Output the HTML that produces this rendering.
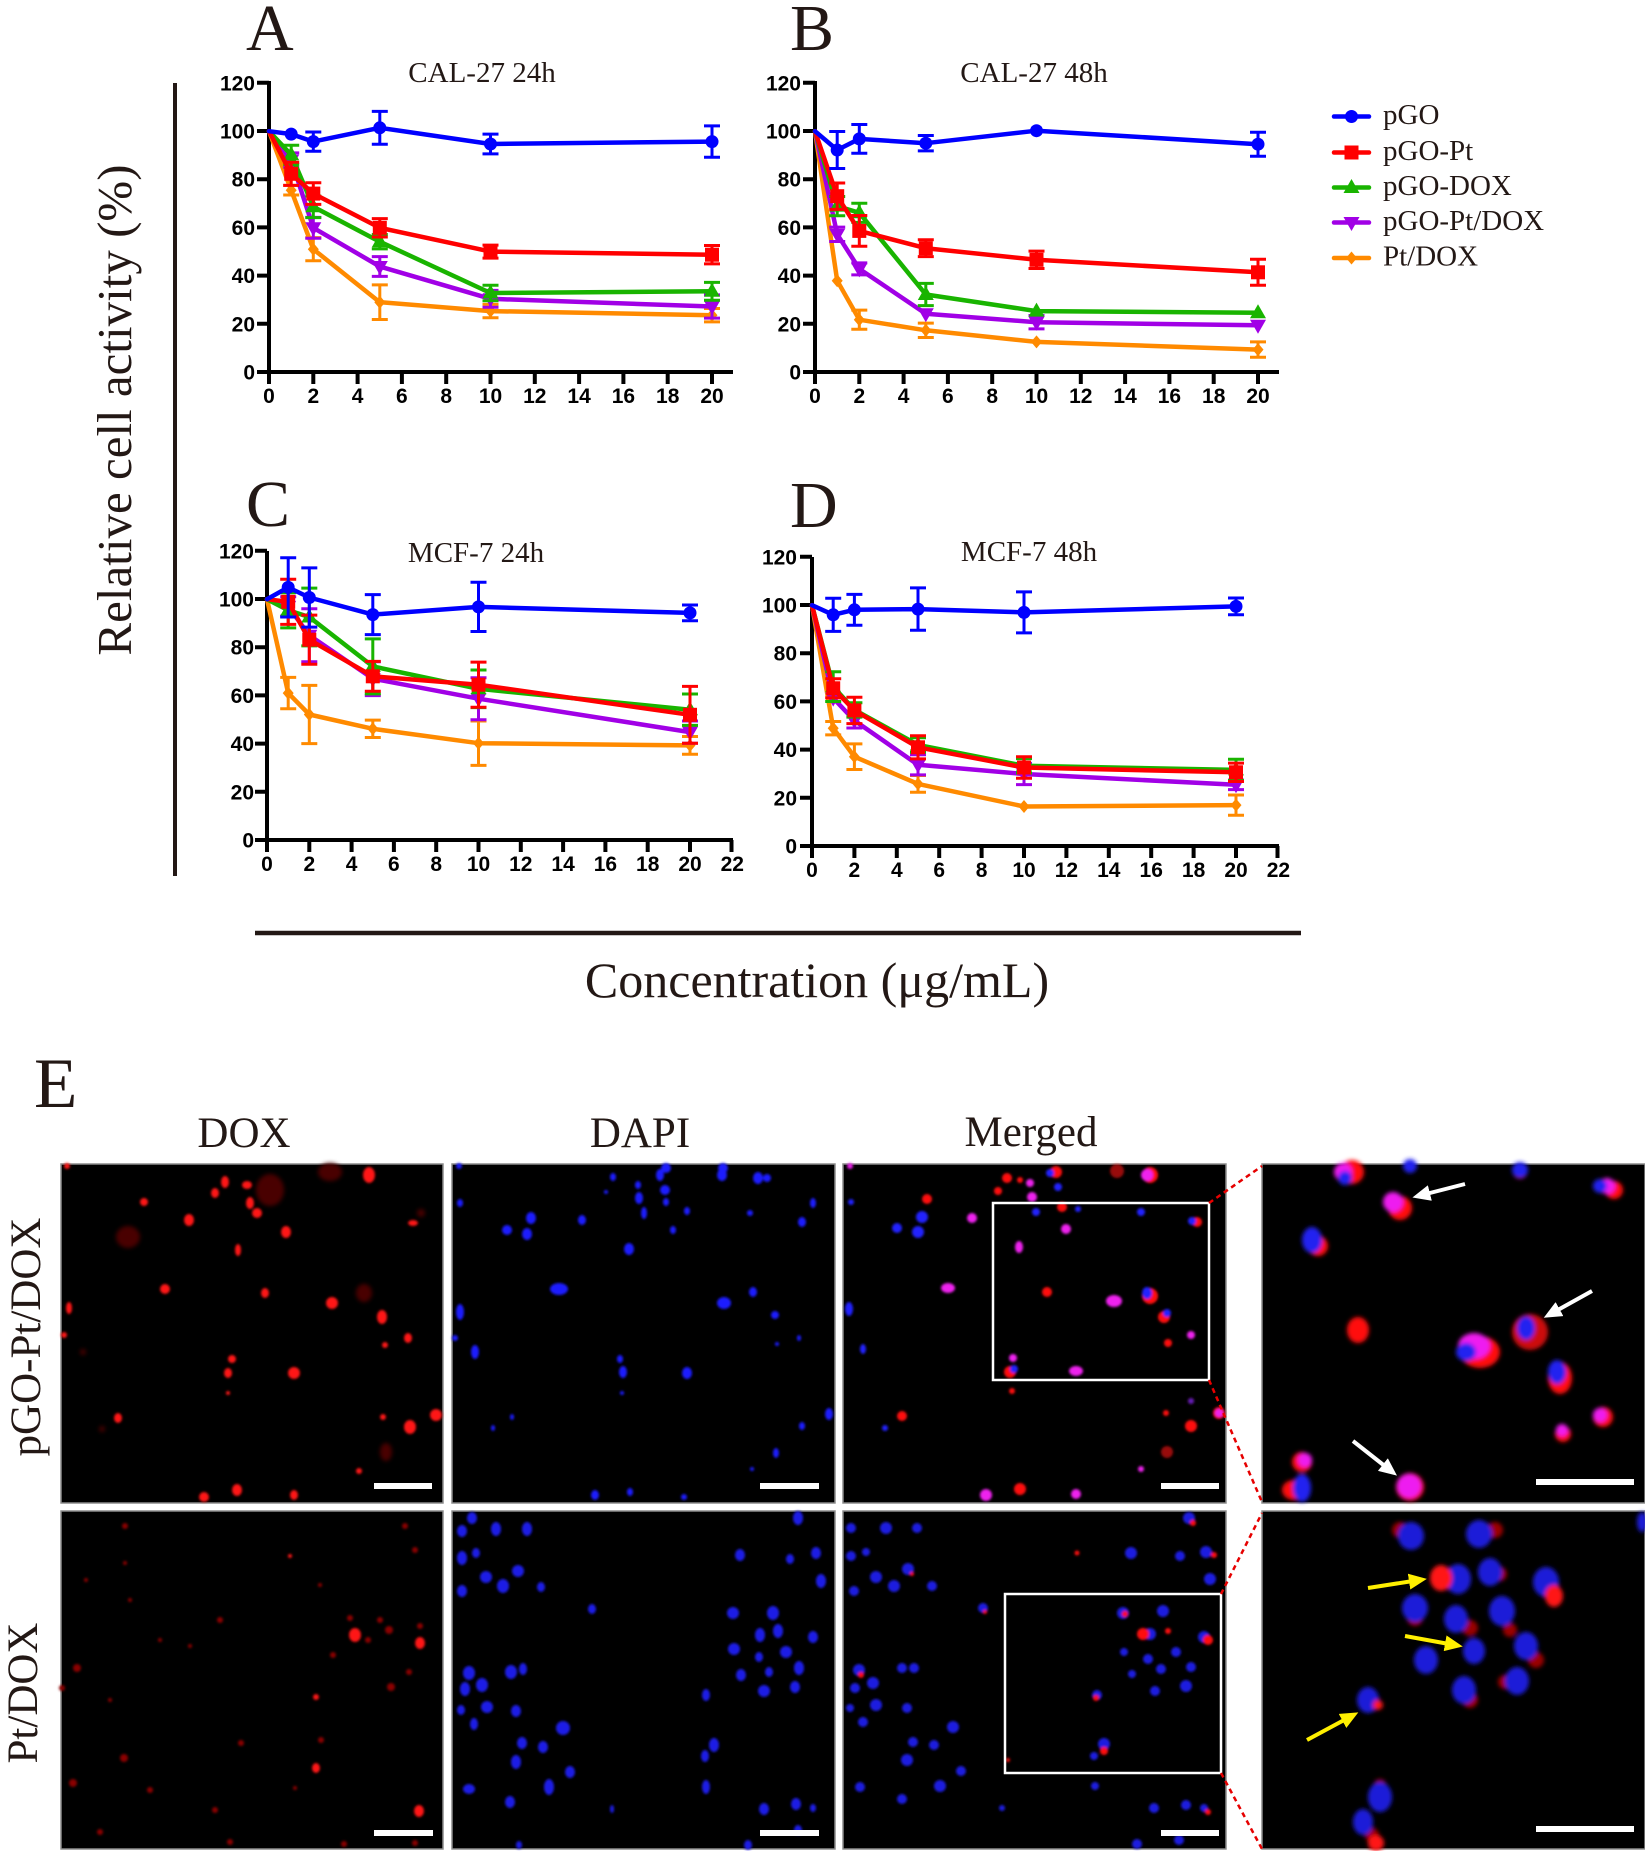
<!DOCTYPE html>
<html>
<head>
<meta charset="utf-8">
<style>
html,body{margin:0;padding:0;background:#fff;}
svg{display:block;}
.ser{fill:none;stroke-width:4.5;stroke-linejoin:round;stroke-linecap:round;}
.eb{fill:none;stroke-width:3;}
.ax{fill:none;stroke:#000;stroke-width:4;}
.tk{font-family:"Liberation Sans",Arial,sans-serif;font-weight:bold;font-size:21px;fill:#000;}
.sf{font-family:"Liberation Serif","Times New Roman",serif;fill:#231815;}
</style>
</head>
<body>
<svg width="1645" height="1851" viewBox="0 0 1645 1851" xmlns="http://www.w3.org/2000/svg">
<defs>
<g id="mc"><circle r="6.5"/></g>
<g id="ms"><rect x="-7" y="-7" width="14" height="14"/></g>
<g id="mu"><polygon points="0,-8.5 8,5.5 -8,5.5"/></g>
<g id="md"><polygon points="-8,-5.5 8,-5.5 0,8.5"/></g>
<g id="mdi"><polygon points="0,-6.5 5.5,0 0,6.5 -5.5,0"/></g>
<filter id="bl" x="-20%" y="-20%" width="140%" height="140%"><feGaussianBlur stdDeviation="1.3"/></filter>
<filter id="bl2" x="-20%" y="-20%" width="140%" height="140%"><feGaussianBlur stdDeviation="2.2"/></filter>
<marker id="ahw" markerUnits="userSpaceOnUse" markerWidth="18" markerHeight="16" refX="4" refY="8" orient="auto"><path d="M0,0 L18,8 L0,16 z" fill="#fff"/></marker>
<marker id="ahy" markerUnits="userSpaceOnUse" markerWidth="18" markerHeight="16" refX="4" refY="8" orient="auto"><path d="M0,0 L18,8 L0,16 z" fill="#ffef00"/></marker>
</defs>
<rect width="1645" height="1851" fill="#fff"/>

<!-- Panel letters & titles -->
<text class="sf" x="246" y="50" font-size="66">A</text>
<text class="sf" x="790" y="50" font-size="66">B</text>
<text class="sf" x="246" y="526" font-size="66">C</text>
<text class="sf" x="790" y="527" font-size="66">D</text>
<text class="sf" x="482" y="82" font-size="29" text-anchor="middle">CAL-27 24h</text>
<text class="sf" x="1034" y="82" font-size="29" text-anchor="middle">CAL-27 48h</text>
<text class="sf" x="476" y="562" font-size="29" text-anchor="middle">MCF-7 24h</text>
<text class="sf" x="1029" y="561" font-size="29" text-anchor="middle">MCF-7 48h</text>

<!-- Shared labels -->
<path d="M175 83V876" stroke="#231815" stroke-width="4"/>
<path d="M255 933H1301" stroke="#231815" stroke-width="4.5"/>
<text class="sf" font-size="49" text-anchor="middle" transform="translate(131,410) rotate(-90)">Relative cell activity (%)</text>
<text class="sf" x="817" y="997" font-size="50" text-anchor="middle">Concentration (μg/mL)</text>

<!-- ============ Panel A ============ -->
<path class="ax" d="M269 81V372H733"/>
<path class="ax" d="M257 372H269M257 323.8H269M257 275.6H269M257 227.4H269M257 179.2H269M257 131H269M257 82.8H269M269 372V384M313.3 372V384M357.6 372V384M401.9 372V384M446.2 372V384M490.5 372V384M534.8 372V384M579.1 372V384M623.4 372V384M667.7 372V384M712 372V384"/>
<g class="tk" text-anchor="end">
<text x="255" y="379.5">0</text><text x="255" y="331.3">20</text><text x="255" y="283.1">40</text><text x="255" y="234.9">60</text><text x="255" y="186.7">80</text><text x="255" y="138.5">100</text><text x="255" y="90.3">120</text>
</g>
<g class="tk" text-anchor="middle">
<text x="269" y="403">0</text><text x="313.3" y="403">2</text><text x="357.6" y="403">4</text><text x="401.9" y="403">6</text><text x="446.2" y="403">8</text><text x="490.5" y="403">10</text><text x="534.8" y="403">12</text><text x="579.1" y="403">14</text><text x="623.4" y="403">16</text><text x="667.7" y="403">18</text><text x="712" y="403">20</text>
</g>
<!-- orange -->
<g stroke="#ff8a00" fill="#ff8a00">
<polyline class="ser" points="269,131.2 291.2,190.2 313.3,249.2 379.8,302.2 490.5,311.1 712,315.2"/>
<path class="eb" d="M291.2 185.4V195M283.2 185.4h16M283.2 195h16M313.3 237.6V260.8M305.3 237.6h16M305.3 260.8h16M379.8 284.9V319.5M371.8 284.9h16M371.8 319.5h16M490.5 304.4V317.8M482.5 304.4h16M482.5 317.8h16M712 308.5V321.9M704 308.5h16M704 321.9h16"/>
<g stroke="none"><use href="#mdi" x="291.2" y="190.2"/><use href="#mdi" x="313.3" y="249.2"/><use href="#mdi" x="379.8" y="302.2"/><use href="#mdi" x="490.5" y="311.1"/><use href="#mdi" x="712" y="315.2"/></g>
</g>
<!-- purple -->
<g stroke="#a100e6" fill="#a100e6">
<polyline class="ser" points="269,131.2 291.2,160.1 313.3,227.8 379.8,266.5 490.5,298.8 712,306.5"/>
<path class="eb" d="M291.2 152.9V167.3M283.2 152.9h16M283.2 167.3h16M313.3 217.4V238.2M305.3 217.4h16M305.3 238.2h16M379.8 256.6V276.4M371.8 256.6h16M371.8 276.4h16M490.5 290.4V307.2M482.5 290.4h16M482.5 307.2h16M712 294.9V318.1M704 294.9h16M704 318.1h16"/>
<g stroke="none"><use href="#md" x="291.2" y="160.1"/><use href="#md" x="313.3" y="227.8"/><use href="#md" x="379.8" y="266.5"/><use href="#md" x="490.5" y="298.8"/><use href="#md" x="712" y="306.5"/></g>
</g>
<!-- green -->
<g stroke="#19b400" fill="#19b400">
<polyline class="ser" points="269,131.2 291.2,154.8 313.3,206.8 379.8,241.7 490.5,293 712,291.3"/>
<path class="eb" d="M291.2 145.2V164.4M283.2 145.2h16M283.2 164.4h16M313.3 196V217.6M305.3 196h16M305.3 217.6h16M379.8 234.5V248.9M371.8 234.5h16M371.8 248.9h16M490.5 285.3V300.7M482.5 285.3h16M482.5 300.7h16M712 282.4V300.2M704 282.4h16M704 300.2h16"/>
<g stroke="none"><use href="#mu" x="291.2" y="154.8"/><use href="#mu" x="313.3" y="206.8"/><use href="#mu" x="379.8" y="241.7"/><use href="#mu" x="490.5" y="293"/><use href="#mu" x="712" y="291.3"/></g>
</g>
<!-- red -->
<g stroke="#ff0000" fill="#ff0000">
<polyline class="ser" points="269,131.2 291.2,173.8 313.3,193.6 379.8,227.8 490.5,251.6 712,254.7"/>
<path class="eb" d="M291.2 162.2V185.4M283.2 162.2h16M283.2 185.4h16M313.3 182.8V204.4M305.3 182.8h16M305.3 204.4h16M379.8 218.6V237M371.8 218.6h16M371.8 237h16M490.5 245.1V258.1M482.5 245.1h16M482.5 258.1h16M712 245.5V263.9M704 245.5h16M704 263.9h16"/>
<g stroke="none"><use href="#ms" x="291.2" y="173.8"/><use href="#ms" x="313.3" y="193.6"/><use href="#ms" x="379.8" y="227.8"/><use href="#ms" x="490.5" y="251.6"/><use href="#ms" x="712" y="254.7"/></g>
</g>
<!-- blue -->
<g stroke="#0000ff" fill="#0000ff">
<polyline class="ser" points="269,131.2 291.2,134.1 313.3,141.6 379.8,127.8 490.5,144 712,141.6"/>
<path class="eb" d="M313.3 132V151.2M305.3 132h16M305.3 151.2h16M379.8 111.4V144.2M371.8 111.4h16M371.8 144.2h16M490.5 134.1V153.9M482.5 134.1h16M482.5 153.9h16M712 125.9V157.3M704 125.9h16M704 157.3h16"/>
<g stroke="none"><use href="#mc" x="291.2" y="134.1"/><use href="#mc" x="313.3" y="141.6"/><use href="#mc" x="379.8" y="127.8"/><use href="#mc" x="490.5" y="144"/><use href="#mc" x="712" y="141.6"/></g>
</g>

<!-- ============ Panel B ============ -->
<path class="ax" d="M815 81V372H1279"/>
<path class="ax" d="M803 372H815M803 323.8H815M803 275.6H815M803 227.4H815M803 179.2H815M803 131H815M803 82.8H815M815 372V384M859.3 372V384M903.6 372V384M947.9 372V384M992.2 372V384M1036.5 372V384M1080.8 372V384M1125.1 372V384M1169.4 372V384M1213.7 372V384M1258 372V384"/>
<g class="tk" text-anchor="end">
<text x="801" y="379.5">0</text><text x="801" y="331.3">20</text><text x="801" y="283.1">40</text><text x="801" y="234.9">60</text><text x="801" y="186.7">80</text><text x="801" y="138.5">100</text><text x="801" y="90.3">120</text>
</g>
<g class="tk" text-anchor="middle">
<text x="815" y="403">0</text><text x="859.3" y="403">2</text><text x="903.6" y="403">4</text><text x="947.9" y="403">6</text><text x="992.2" y="403">8</text><text x="1036.5" y="403">10</text><text x="1080.8" y="403">12</text><text x="1125.1" y="403">14</text><text x="1169.4" y="403">16</text><text x="1213.7" y="403">18</text><text x="1258" y="403">20</text>
</g>
<g stroke="#ff8a00" fill="#ff8a00">
<polyline class="ser" points="815,131.2 837.2,280.7 859.3,319.7 925.8,330.3 1036.5,341.9 1258,349.6"/>
<path class="eb" d="M859.3 310.1V329.3M851.3 310.1h16M851.3 329.3h16M925.8 323.1V337.5M917.8 323.1h16M917.8 337.5h16M1258 341.9V357.3M1250 341.9h16M1250 357.3h16"/>
<g stroke="none"><use href="#mdi" x="837.2" y="280.7"/><use href="#mdi" x="859.3" y="319.7"/><use href="#mdi" x="925.8" y="330.3"/><use href="#mdi" x="1036.5" y="341.9"/><use href="#mdi" x="1258" y="349.6"/></g>
</g>
<g stroke="#a100e6" fill="#a100e6">
<polyline class="ser" points="815,131.2 837.2,234.3 859.3,268.9 925.8,313.7 1036.5,322.2 1258,325.3"/>
<path class="eb" d="M837.2 227.1V241.5M829.2 227.1h16M829.2 241.5h16M859.3 262.9V274.9M851.3 262.9h16M851.3 274.9h16M1036.5 315.5V328.9M1028.5 315.5h16M1028.5 328.9h16"/>
<g stroke="none"><use href="#md" x="837.2" y="234.3"/><use href="#md" x="859.3" y="268.9"/><use href="#md" x="925.8" y="313.7"/><use href="#md" x="1036.5" y="322.2"/><use href="#md" x="1258" y="325.3"/></g>
</g>
<g stroke="#19b400" fill="#19b400">
<polyline class="ser" points="815,131.2 837.2,206.1 859.3,212.8 925.8,294.5 1036.5,311.1 1258,312.8"/>
<path class="eb" d="M837.2 196.5V215.7M829.2 196.5h16M829.2 215.7h16M859.3 203.2V222.4M851.3 203.2h16M851.3 222.4h16M925.8 283.4V305.6M917.8 283.4h16M917.8 305.6h16"/>
<g stroke="none"><use href="#mu" x="837.2" y="206.1"/><use href="#mu" x="859.3" y="212.8"/><use href="#mu" x="925.8" y="294.5"/><use href="#mu" x="1036.5" y="311.1"/><use href="#mu" x="1258" y="312.8"/></g>
</g>
<g stroke="#ff0000" fill="#ff0000">
<polyline class="ser" points="815,131.2 837.2,196.2 859.3,230.9 925.8,248.2 1036.5,259.8 1258,272.3"/>
<path class="eb" d="M837.2 183V209.4M829.2 183h16M829.2 209.4h16M859.3 215.5V246.3M851.3 215.5h16M851.3 246.3h16M925.8 239.8V256.6M917.8 239.8h16M917.8 256.6h16M1036.5 251.1V268.5M1028.5 251.1h16M1028.5 268.5h16M1258 259.3V285.3M1250 259.3h16M1250 285.3h16"/>
<g stroke="none"><use href="#ms" x="837.2" y="196.2"/><use href="#ms" x="859.3" y="230.9"/><use href="#ms" x="925.8" y="248.2"/><use href="#ms" x="1036.5" y="259.8"/><use href="#ms" x="1258" y="272.3"/></g>
</g>
<g stroke="#0000ff" fill="#0000ff">
<polyline class="ser" points="815,131.2 837.2,150 859.3,138.9 925.8,143.2 1036.5,130.7 1258,144.2"/>
<path class="eb" d="M837.2 131.5V168.5M829.2 131.5h16M829.2 168.5h16M859.3 124.5V153.3M851.3 124.5h16M851.3 153.3h16M925.8 135.5V150.9M917.8 135.5h16M917.8 150.9h16M1258 132.2V156.2M1250 132.2h16M1250 156.2h16"/>
<g stroke="none"><use href="#mc" x="837.2" y="150"/><use href="#mc" x="859.3" y="138.9"/><use href="#mc" x="925.8" y="143.2"/><use href="#mc" x="1036.5" y="130.7"/><use href="#mc" x="1258" y="144.2"/></g>
</g>

<!-- ============ Panel C ============ -->
<path class="ax" d="M267 551V840H733"/>
<path class="ax" d="M255 840H267M255 791.8H267M255 743.6H267M255 695.4H267M255 647.2H267M255 599H267M255 550.8H267M267 840V852M309.3 840V852M351.6 840V852M393.9 840V852M436.2 840V852M478.5 840V852M520.8 840V852M563.1 840V852M605.4 840V852M647.7 840V852M690 840V852M731.5 840V852"/>
<g class="tk" text-anchor="end">
<text x="254" y="847.5">0</text><text x="254" y="799.3">20</text><text x="254" y="751.1">40</text><text x="254" y="702.9">60</text><text x="254" y="654.7">80</text><text x="254" y="606.5">100</text><text x="254" y="558.3">120</text>
</g>
<g class="tk" text-anchor="middle">
<text x="267" y="871">0</text><text x="309.3" y="871">2</text><text x="351.6" y="871">4</text><text x="393.9" y="871">6</text><text x="436.2" y="871">8</text><text x="478.5" y="871">10</text><text x="520.8" y="871">12</text><text x="563.1" y="871">14</text><text x="605.4" y="871">16</text><text x="647.7" y="871">18</text><text x="690" y="871">20</text><text x="732.3" y="871">22</text>
</g>
<g stroke="#ff8a00" fill="#ff8a00">
<polyline class="ser" points="267,599.2 288.2,693.1 309.3,714.5 372.8,728.8 478.5,743.2 690,745.4"/>
<path class="eb" d="M288.2 677.4V708.8M280.2 677.4h16M280.2 708.8h16M309.3 685.4V743.6M301.3 685.4h16M301.3 743.6h16M372.8 720.1V737.5M364.8 720.1h16M364.8 737.5h16M478.5 721V765.4M470.5 721h16M470.5 765.4h16M690 736.5V754.3M682 736.5h16M682 754.3h16"/>
<g stroke="none"><use href="#mdi" x="288.2" y="693.1"/><use href="#mdi" x="309.3" y="714.5"/><use href="#mdi" x="372.8" y="728.8"/><use href="#mdi" x="478.5" y="743.2"/><use href="#mdi" x="690" y="745.4"/></g>
</g>
<g stroke="#a100e6" fill="#a100e6">
<polyline class="ser" points="267,599.2 288.2,606.4 309.3,635.3 372.8,678.7 478.5,698.7 690,732.1"/>
<path class="eb" d="M288.2 596.8V616M280.2 596.8h16M280.2 616h16M309.3 608.8V661.8M301.3 608.8h16M301.3 661.8h16M372.8 661.8V695.6M364.8 661.8h16M364.8 695.6h16M478.5 677.7V719.7M470.5 677.7h16M470.5 719.7h16M690 721V743.2M682 721h16M682 743.2h16"/>
<g stroke="none"><use href="#md" x="288.2" y="606.4"/><use href="#md" x="309.3" y="635.3"/><use href="#md" x="372.8" y="678.7"/><use href="#md" x="478.5" y="698.7"/><use href="#md" x="690" y="732.1"/></g>
</g>
<g stroke="#19b400" fill="#19b400">
<polyline class="ser" points="267,599.2 288.2,610.3 309.3,617 372.8,666.4 478.5,688.8 690,709.7"/>
<path class="eb" d="M288.2 592.7V627.9M280.2 592.7h16M280.2 627.9h16M309.3 588.1V645.9M301.3 588.1h16M301.3 645.9h16M372.8 638.9V693.9M364.8 638.9h16M364.8 693.9h16M478.5 670V707.6M470.5 670h16M470.5 707.6h16M690 694V725.4M682 694h16M682 725.4h16"/>
<g stroke="none"><use href="#mu" x="288.2" y="610.3"/><use href="#mu" x="309.3" y="617"/><use href="#mu" x="372.8" y="666.4"/><use href="#mu" x="478.5" y="688.8"/><use href="#mu" x="690" y="709.7"/></g>
</g>
<g stroke="#ff0000" fill="#ff0000">
<polyline class="ser" points="267,599.2 288.2,601.8 309.3,639.7 372.8,676.3 478.5,684.7 690,714.8"/>
<path class="eb" d="M288.2 579.2V624.4M280.2 579.2h16M280.2 624.4h16M309.3 615.1V664.3M301.3 615.1h16M301.3 664.3h16M372.8 661.4V691.2M364.8 661.4h16M364.8 691.2h16M478.5 662.1V707.3M470.5 662.1h16M470.5 707.3h16M690 686.4V743.2M682 686.4h16M682 743.2h16"/>
<g stroke="none"><use href="#ms" x="288.2" y="601.8"/><use href="#ms" x="309.3" y="639.7"/><use href="#ms" x="372.8" y="676.3"/><use href="#ms" x="478.5" y="684.7"/><use href="#ms" x="690" y="714.8"/></g>
</g>
<g stroke="#0000ff" fill="#0000ff">
<polyline class="ser" points="267,599.2 288.2,587.4 309.3,597.5 372.8,614.6 478.5,606.9 690,612.9"/>
<path class="eb" d="M288.2 557.8V617M280.2 557.8h16M280.2 617h16M309.3 567.9V627.1M301.3 567.9h16M301.3 627.1h16M372.8 594.6V634.6M364.8 594.6h16M364.8 634.6h16M478.5 582.3V631.5M470.5 582.3h16M470.5 631.5h16M690 605V620.8M682 605h16M682 620.8h16"/>
<g stroke="none"><use href="#mc" x="288.2" y="587.4"/><use href="#mc" x="309.3" y="597.5"/><use href="#mc" x="372.8" y="614.6"/><use href="#mc" x="478.5" y="606.9"/><use href="#mc" x="690" y="612.9"/></g>
</g>

<!-- ============ Panel D ============ -->
<path class="ax" d="M812 557V846H1279"/>
<path class="ax" d="M800 846H812M800 797.8H812M800 749.6H812M800 701.4H812M800 653.2H812M800 605H812M800 556.8H812M812 846V858M854.4 846V858M896.8 846V858M939.2 846V858M981.6 846V858M1024 846V858M1066.4 846V858M1108.8 846V858M1151.2 846V858M1193.6 846V858M1236 846V858M1277.5 846V858"/>
<g class="tk" text-anchor="end">
<text x="797" y="853.5">0</text><text x="797" y="805.3">20</text><text x="797" y="757.1">40</text><text x="797" y="708.9">60</text><text x="797" y="660.7">80</text><text x="797" y="612.5">100</text><text x="797" y="564.3">120</text>
</g>
<g class="tk" text-anchor="middle">
<text x="812" y="877">0</text><text x="854.4" y="877">2</text><text x="896.8" y="877">4</text><text x="939.2" y="877">6</text><text x="981.6" y="877">8</text><text x="1024" y="877">10</text><text x="1066.4" y="877">12</text><text x="1108.8" y="877">14</text><text x="1151.2" y="877">16</text><text x="1193.6" y="877">18</text><text x="1236" y="877">20</text><text x="1278.4" y="877">22</text>
</g>
<g stroke="#ff8a00" fill="#ff8a00">
<polyline class="ser" points="812,605.2 833.2,728.2 854.4,756.7 918,783.9 1024,806.5 1236,805.1"/>
<path class="eb" d="M833.2 721.5V734.9M825.2 721.5h16M825.2 734.9h16M854.4 743.9V769.5M846.4 743.9h16M846.4 769.5h16M918 775.5V792.3M910 775.5h16M910 792.3h16M1236 795V815.2M1228 795h16M1228 815.2h16"/>
<g stroke="none"><use href="#mdi" x="833.2" y="728.2"/><use href="#mdi" x="854.4" y="756.7"/><use href="#mdi" x="918" y="783.9"/><use href="#mdi" x="1024" y="806.5"/><use href="#mdi" x="1236" y="805.1"/></g>
</g>
<g stroke="#a100e6" fill="#a100e6">
<polyline class="ser" points="812,605.2 833.2,698.1 854.4,720.5 918,764.8 1024,774 1236,784.8"/>
<path class="eb" d="M854.4 713V728M846.4 713h16M846.4 728h16M918 754.7V774.9M910 754.7h16M910 774.9h16M1024 763.4V784.6M1016 763.4h16M1016 784.6h16M1236 780V789.6M1228 780h16M1228 789.6h16"/>
<g stroke="none"><use href="#md" x="833.2" y="698.1"/><use href="#md" x="854.4" y="720.5"/><use href="#md" x="918" y="764.8"/><use href="#md" x="1024" y="774"/><use href="#md" x="1236" y="784.8"/></g>
</g>
<g stroke="#19b400" fill="#19b400">
<polyline class="ser" points="812,605.2 833.2,686.6 854.4,709.9 918,744.9 1024,765.8 1236,769.9"/>
<path class="eb" d="M833.2 671.7V701.5M825.2 671.7h16M825.2 701.5h16M854.4 702.7V717.1M846.4 702.7h16M846.4 717.1h16M918 737.7V752.1M910 737.7h16M910 752.1h16M1024 758.6V773M1016 758.6h16M1016 773h16M1236 759.3V780.5M1228 759.3h16M1228 780.5h16"/>
<g stroke="none"><use href="#mu" x="833.2" y="686.6"/><use href="#mu" x="854.4" y="709.9"/><use href="#mu" x="918" y="744.9"/><use href="#mu" x="1024" y="765.8"/><use href="#mu" x="1236" y="769.9"/></g>
</g>
<g stroke="#ff0000" fill="#ff0000">
<polyline class="ser" points="812,605.2 833.2,688.3 854.4,710.4 918,747.3 1024,767.5 1236,772.3"/>
<path class="eb" d="M833.2 678.7V697.9M825.2 678.7h16M825.2 697.9h16M854.4 697.2V723.6M846.4 697.2h16M846.4 723.6h16M918 735.7V758.9M910 735.7h16M910 758.9h16M1024 756.7V778.3M1016 756.7h16M1016 778.3h16M1236 763.1V781.5M1228 763.1h16M1228 781.5h16"/>
<g stroke="none"><use href="#ms" x="833.2" y="688.3"/><use href="#ms" x="854.4" y="710.4"/><use href="#ms" x="918" y="747.3"/><use href="#ms" x="1024" y="767.5"/><use href="#ms" x="1236" y="772.3"/></g>
</g>
<g stroke="#0000ff" fill="#0000ff">
<polyline class="ser" points="812,605.2 833.2,614.8 854.4,609.8 918,609.1 1024,612.4 1236,606.4"/>
<path class="eb" d="M833.2 598.2V631.4M825.2 598.2h16M825.2 631.4h16M854.4 594.4V625.2M846.4 594.4h16M846.4 625.2h16M918 587.9V630.3M910 587.9h16M910 630.3h16M1024 591.9V632.9M1016 591.9h16M1016 632.9h16M1236 598V614.8M1228 598h16M1228 614.8h16"/>
<g stroke="none"><use href="#mc" x="833.2" y="614.8"/><use href="#mc" x="854.4" y="609.8"/><use href="#mc" x="918" y="609.1"/><use href="#mc" x="1024" y="612.4"/><use href="#mc" x="1236" y="606.4"/></g>
</g>

<!-- ============ Legend ============ -->
<g stroke-width="4.5" stroke-linecap="round">
<path d="M1334 116.5H1369" stroke="#0000ff"/>
<path d="M1334 152.5H1369" stroke="#ff0000"/>
<path d="M1334 187.5H1369" stroke="#19b400"/>
<path d="M1334 222.5H1369" stroke="#a100e6"/>
<path d="M1334 258H1369" stroke="#ff8a00"/>
</g>
<use href="#mc" x="1351.5" y="116.5" fill="#0000ff"/>
<use href="#ms" x="1351.5" y="152.5" fill="#ff0000"/>
<use href="#mu" x="1351.5" y="187.5" fill="#19b400"/>
<use href="#md" x="1351.5" y="222.5" fill="#a100e6"/>
<use href="#mdi" x="1351.5" y="258" fill="#ff8a00"/>
<g class="sf" font-size="29">
<text x="1383" y="124">pGO</text>
<text x="1383" y="160">pGO-Pt</text>
<text x="1383" y="195">pGO-DOX</text>
<text x="1383" y="230">pGO-Pt/DOX</text>
<text x="1383" y="265.5">Pt/DOX</text>
</g>

<!-- ============ Panel E ============ -->
<text class="sf" x="34" y="1107" font-size="71">E</text>
<g class="sf" font-size="43" text-anchor="middle">
<text x="244" y="1147">DOX</text>
<text x="640" y="1147">DAPI</text>
<text x="1031" y="1146">Merged</text>
</g>
<text class="sf" font-size="43" text-anchor="middle" transform="translate(40,1337) rotate(-90)">pGO-Pt/DOX</text>
<text class="sf" font-size="43" text-anchor="middle" transform="translate(37,1693) rotate(-90)">Pt/DOX</text>

<!-- photo backgrounds -->
<g fill="#000" stroke="#8c8c8c" stroke-width="1.5">
<rect x="61" y="1164" width="382" height="339"/>
<rect x="452" y="1164" width="383" height="339"/>
<rect x="843" y="1164" width="383" height="339"/>
<rect x="1262" y="1164" width="383" height="339"/>
<rect x="61" y="1511" width="382" height="338"/>
<rect x="452" y="1511" width="383" height="338"/>
<rect x="843" y="1511" width="383" height="338"/>
<rect x="1262" y="1511" width="383" height="338"/>
</g>

<!-- Row1 Col1 DOX -->
<g fill="#4a0000" filter="url(#bl2)">
<ellipse cx="330" cy="1172" rx="12" ry="9"/><ellipse cx="128" cy="1237" rx="12" ry="11"/><ellipse cx="270" cy="1190" rx="14" ry="16"/><ellipse cx="364" cy="1293" rx="8" ry="9"/><ellipse cx="386" cy="1452" rx="6" ry="9"/><circle cx="83" cy="1352" r="3"/><circle cx="102" cy="1429" r="3"/><circle cx="421" cy="1213" r="4"/>
</g>
<g fill="#ff1414" filter="url(#bl)">
<circle cx="67" cy="1166" r="3"/><ellipse cx="225" cy="1182" rx="4" ry="6"/><ellipse cx="247" cy="1185" rx="5" ry="4"/><ellipse cx="369" cy="1175" rx="6" ry="8"/><ellipse cx="215" cy="1193" rx="4" ry="5"/><circle cx="144" cy="1202" r="4"/><ellipse cx="250" cy="1203" rx="4" ry="6"/><circle cx="257" cy="1213" r="5"/><ellipse cx="189" cy="1220" rx="5" ry="6"/><ellipse cx="286" cy="1232" rx="5" ry="6"/><ellipse cx="238" cy="1250" rx="3" ry="6"/><ellipse cx="413" cy="1223" rx="5" ry="3"/><circle cx="165" cy="1289" r="5"/><ellipse cx="265" cy="1293" rx="4" ry="5"/><circle cx="332" cy="1303" r="6"/><ellipse cx="69" cy="1308" rx="3" ry="6"/><ellipse cx="382" cy="1317" rx="5" ry="7"/><circle cx="64" cy="1335" r="3"/><ellipse cx="408" cy="1338" rx="4" ry="5"/><circle cx="385" cy="1345" r="3"/><circle cx="232" cy="1359" r="4"/><ellipse cx="228" cy="1373" rx="4" ry="5"/><circle cx="294" cy="1373" r="6"/><circle cx="228" cy="1393" r="2"/><ellipse cx="118" cy="1418" rx="4" ry="5"/><circle cx="383" cy="1417" r="3"/><circle cx="436" cy="1415" r="6"/><ellipse cx="410" cy="1427" rx="6" ry="7"/><circle cx="359" cy="1471" r="3"/><ellipse cx="237" cy="1490" rx="5" ry="6"/><circle cx="204" cy="1497" r="5"/><ellipse cx="294" cy="1495" rx="4" ry="5"/>
</g>
<!-- Row1 Col2 DAPI -->
<g fill="#1a1aff" filter="url(#bl)">
<circle cx="666" cy="1168" r="5"/><circle cx="723" cy="1168" r="5"/><circle cx="459" cy="1166" r="3"/><ellipse cx="613" cy="1177" rx="3" ry="4"/><ellipse cx="660" cy="1175" rx="4" ry="6"/><ellipse cx="722" cy="1175" rx="5" ry="6"/><ellipse cx="758" cy="1178" rx="5" ry="6"/><circle cx="767" cy="1178" r="4"/><ellipse cx="638" cy="1185" rx="3" ry="4"/><ellipse cx="665" cy="1190" rx="5" ry="5"/><circle cx="606" cy="1192" r="2"/><ellipse cx="639" cy="1198" rx="4" ry="6"/><ellipse cx="666" cy="1202" rx="3" ry="4"/><ellipse cx="813" cy="1203" rx="3" ry="5"/><ellipse cx="460" cy="1203" rx="3" ry="4"/><ellipse cx="687" cy="1211" rx="3" ry="4"/><ellipse cx="644" cy="1213" rx="3" ry="6"/><circle cx="750" cy="1213" r="3"/><ellipse cx="531" cy="1218" rx="5" ry="6"/><ellipse cx="582" cy="1220" rx="4" ry="5"/><ellipse cx="802" cy="1222" rx="4" ry="5"/><ellipse cx="507" cy="1230" rx="5" ry="5"/><ellipse cx="527" cy="1234" rx="5" ry="6"/><ellipse cx="673" cy="1230" rx="3" ry="4"/><ellipse cx="629" cy="1249" rx="5" ry="6"/><ellipse cx="559" cy="1289" rx="9" ry="6"/><ellipse cx="753" cy="1292" rx="4" ry="5"/><ellipse cx="724" cy="1303" rx="7" ry="6"/><ellipse cx="460" cy="1312" rx="4" ry="8"/><ellipse cx="775" cy="1315" rx="4" ry="4"/><circle cx="455" cy="1338" r="3"/><ellipse cx="799" cy="1338" rx="2" ry="3"/><ellipse cx="475" cy="1352" rx="4" ry="7"/><circle cx="777" cy="1344" r="2"/><ellipse cx="620" cy="1359" rx="3" ry="4"/><ellipse cx="623" cy="1372" rx="4" ry="6"/><ellipse cx="687" cy="1373" rx="5" ry="6"/><circle cx="622" cy="1393" r="2"/><ellipse cx="512" cy="1417" rx="2" ry="3"/><ellipse cx="829" cy="1414" rx="4" ry="6"/><ellipse cx="802" cy="1426" rx="3" ry="4"/><ellipse cx="493" cy="1428" rx="2" ry="3"/><ellipse cx="776" cy="1453" rx="3" ry="5"/><circle cx="752" cy="1469" r="2"/><ellipse cx="630" cy="1492" rx="3" ry="4"/><ellipse cx="595" cy="1495" rx="4" ry="5"/><circle cx="684" cy="1497" r="3"/>
</g>
<!-- Row1 Col3 Merged -->
<g filter="url(#bl)">
<g fill="#ff1010">
<circle cx="1007" cy="1178" r="5"/><circle cx="1150" cy="1175" r="8"/><circle cx="998" cy="1191" r="4"/><circle cx="927" cy="1199" r="5"/><circle cx="1062" cy="1207" r="5"/><circle cx="1197" cy="1222" r="5"/><circle cx="1047" cy="1292" r="5"/><circle cx="1150" cy="1296" r="8"/><circle cx="1164" cy="1317" r="6"/><circle cx="1168" cy="1343" r="4"/><circle cx="1010" cy="1372" r="6"/><circle cx="1012" cy="1391" r="3"/><circle cx="902" cy="1416" r="5"/><circle cx="1191" cy="1401" r="3"/><circle cx="1166" cy="1413" r="3"/><circle cx="1191" cy="1426" r="6"/><circle cx="1020" cy="1489" r="6"/><circle cx="1056" cy="1172" r="6"/><circle cx="1117" cy="1171" r="7" opacity="0.6"/><circle cx="1219" cy="1413" r="6"/><circle cx="1167" cy="1452" r="6" opacity="0.6"/><circle cx="1020" cy="1180" r="3"/>
</g>
<g fill="#ee22ee">
<circle cx="850" cy="1166" r="3"/><circle cx="1030" cy="1183" r="4"/><circle cx="1032" cy="1197" r="5"/><circle cx="1147" cy="1175" r="6"/><circle cx="972" cy="1218" r="5"/><circle cx="1066" cy="1229" r="5"/><ellipse cx="1019" cy="1247" rx="4" ry="6"/><ellipse cx="948" cy="1288" rx="7" ry="5"/><ellipse cx="1114" cy="1301" rx="8" ry="6"/><circle cx="1191" cy="1335" r="4"/><ellipse cx="1076" cy="1371" rx="7" ry="5"/><circle cx="1013" cy="1358" r="4"/><circle cx="1219" cy="1413" r="4"/><circle cx="1141" cy="1469" r="3"/><ellipse cx="986" cy="1495" rx="6" ry="6"/><circle cx="1076" cy="1494" r="5"/>
</g>
<g fill="#2020ff">
<circle cx="1050" cy="1173" r="4"/><circle cx="1058" cy="1187" r="4"/><circle cx="1036" cy="1212" r="4"/><circle cx="1078" cy="1209" r="3"/><circle cx="1141" cy="1212" r="4"/><circle cx="1192" cy="1221" r="4"/><circle cx="922" cy="1217" r="6"/><circle cx="851" cy="1202" r="3"/><circle cx="897" cy="1228" r="5"/><circle cx="918" cy="1232" r="6"/><ellipse cx="1147" cy="1293" rx="5" ry="6"/><circle cx="1167" cy="1313" r="4"/><ellipse cx="849" cy="1309" rx="4" ry="7"/><ellipse cx="863" cy="1349" rx="3" ry="5"/><circle cx="1014" cy="1369" r="4"/><circle cx="885" cy="1428" r="3"/><circle cx="1191" cy="1401" r="3" opacity="0.7"/>
</g>
</g>
<!-- Row1 Col4 zoomed merged -->
<g filter="url(#bl2)">
<g fill="#ff1010">
<circle cx="1352" cy="1172" r="12"/><circle cx="1400" cy="1208" r="12"/><circle cx="1318" cy="1246" r="10"/><ellipse cx="1358" cy="1330" rx="11" ry="13"/><ellipse cx="1480" cy="1352" rx="20" ry="16"/><ellipse cx="1530" cy="1332" rx="18" ry="18" opacity="0.8"/><ellipse cx="1560" cy="1378" rx="12" ry="16"/><circle cx="1603" cy="1417" r="10"/><circle cx="1563" cy="1434" r="8"/><circle cx="1302" cy="1462" r="10"/><ellipse cx="1294" cy="1490" rx="12" ry="10"/><circle cx="1410" cy="1487" r="14"/><circle cx="1614" cy="1190" r="9"/><circle cx="1520" cy="1172" r="7" opacity="0.6"/>
</g>
<g fill="#ee1ef0">
<circle cx="1343" cy="1172" r="9"/><circle cx="1393" cy="1202" r="10"/><ellipse cx="1474" cy="1346" rx="16" ry="13"/><circle cx="1600" cy="1415" r="7"/><circle cx="1562" cy="1430" r="6"/><circle cx="1305" cy="1460" r="7"/><circle cx="1409" cy="1486" r="12"/><circle cx="1607" cy="1186" r="8"/>
</g>
<g fill="#2020f0">
<circle cx="1410" cy="1166" r="7"/><circle cx="1520" cy="1170" r="8"/><ellipse cx="1312" cy="1240" rx="10" ry="13"/><ellipse cx="1526" cy="1328" rx="9" ry="12"/><ellipse cx="1557" cy="1372" rx="9" ry="12"/><ellipse cx="1302" cy="1488" rx="9" ry="14"/><circle cx="1345" cy="1178" r="7"/><circle cx="1600" cy="1186" r="7"/><ellipse cx="1466" cy="1352" rx="10" ry="9"/>
</g>
</g>
<!-- Row2 Col1 DOX -->
<g fill="#8a0000" filter="url(#bl)">
<circle cx="125" cy="1526" r="3"/><circle cx="405" cy="1526" r="3"/><circle cx="125" cy="1563" r="2"/><circle cx="415" cy="1550" r="3"/><circle cx="220" cy="1620" r="3"/><circle cx="389" cy="1630" r="4"/><circle cx="333" cy="1655" r="3"/><circle cx="409" cy="1672" r="3"/><circle cx="391" cy="1687" r="4"/><circle cx="77" cy="1668" r="4"/><circle cx="62" cy="1688" r="3"/><circle cx="124" cy="1758" r="4"/><circle cx="73" cy="1783" r="4"/><circle cx="215" cy="1810" r="3"/><circle cx="321" cy="1740" r="3"/><circle cx="241" cy="1743" r="3"/><circle cx="350" cy="1618" r="3"/><circle cx="368" cy="1640" r="3"/><circle cx="190" cy="1646" r="2"/><circle cx="110" cy="1700" r="2"/><circle cx="160" cy="1640" r="2"/><circle cx="380" cy="1620" r="3"/><circle cx="150" cy="1790" r="3"/><circle cx="420" cy="1626" r="3"/><circle cx="86" cy="1580" r="2"/><circle cx="130" cy="1600" r="2"/><circle cx="320" cy="1585" r="2"/><circle cx="100" cy="1832" r="3"/><circle cx="230" cy="1842" r="3"/><circle cx="344" cy="1844" r="3"/><circle cx="415" cy="1843" r="3"/><circle cx="295" cy="1788" r="2"/>
</g>
<g fill="#ff1414" filter="url(#bl)">
<ellipse cx="355" cy="1635" rx="6" ry="7"/><ellipse cx="420" cy="1643" rx="5" ry="6"/><ellipse cx="316" cy="1768" rx="4" ry="5"/><ellipse cx="419" cy="1811" rx="5" ry="6"/><circle cx="290" cy="1556" r="2"/><circle cx="316" cy="1697" r="3"/>
</g>
<!-- Row2 Col2 DAPI -->
<g fill="#1c1ce6" filter="url(#bl)">
<ellipse cx="472" cy="1518" rx="5" ry="6"/><ellipse cx="496" cy="1529" rx="5" ry="7"/><ellipse cx="527" cy="1529" rx="5" ry="7"/><ellipse cx="462" cy="1531" rx="5" ry="6"/><ellipse cx="798" cy="1518" rx="5" ry="7"/><ellipse cx="462" cy="1558" rx="5" ry="7"/><ellipse cx="476" cy="1553" rx="4" ry="5"/><ellipse cx="518" cy="1571" rx="6" ry="6"/><ellipse cx="486" cy="1577" rx="6" ry="6"/><ellipse cx="503" cy="1586" rx="6" ry="7"/><ellipse cx="541" cy="1587" rx="4" ry="5"/><ellipse cx="462" cy="1591" rx="5" ry="6"/><ellipse cx="740" cy="1555" rx="5" ry="6"/><ellipse cx="790" cy="1559" rx="4" ry="5"/><ellipse cx="816" cy="1553" rx="5" ry="6"/><ellipse cx="821" cy="1581" rx="5" ry="7"/><ellipse cx="592" cy="1609" rx="4" ry="5"/><ellipse cx="733" cy="1613" rx="6" ry="6"/><ellipse cx="773" cy="1613" rx="6" ry="7"/><ellipse cx="760" cy="1635" rx="5" ry="7"/><ellipse cx="778" cy="1631" rx="5" ry="7"/><ellipse cx="813" cy="1637" rx="5" ry="6"/><ellipse cx="734" cy="1649" rx="6" ry="6"/><ellipse cx="759" cy="1657" rx="4" ry="5"/><ellipse cx="786" cy="1652" rx="6" ry="6"/><ellipse cx="741" cy="1675" rx="5" ry="6"/><ellipse cx="769" cy="1672" rx="4" ry="5"/><ellipse cx="799" cy="1668" rx="5" ry="7"/><ellipse cx="764" cy="1691" rx="6" ry="6"/><ellipse cx="795" cy="1687" rx="5" ry="6"/><ellipse cx="706" cy="1695" rx="4" ry="6"/><ellipse cx="469" cy="1673" rx="6" ry="7"/><ellipse cx="511" cy="1672" rx="6" ry="7"/><ellipse cx="523" cy="1669" rx="4" ry="6"/><ellipse cx="482" cy="1685" rx="6" ry="7"/><ellipse cx="465" cy="1689" rx="5" ry="7"/><ellipse cx="487" cy="1707" rx="6" ry="6"/><ellipse cx="516" cy="1711" rx="5" ry="6"/><ellipse cx="461" cy="1710" rx="4" ry="5"/><ellipse cx="474" cy="1724" rx="4" ry="6"/><ellipse cx="563" cy="1728" rx="7" ry="7"/><ellipse cx="522" cy="1743" rx="5" ry="6"/><ellipse cx="543" cy="1747" rx="5" ry="6"/><ellipse cx="714" cy="1745" rx="5" ry="7"/><ellipse cx="705" cy="1756" rx="4" ry="6"/><ellipse cx="516" cy="1762" rx="5" ry="7"/><ellipse cx="570" cy="1772" rx="5" ry="6"/><ellipse cx="469" cy="1789" rx="6" ry="5"/><ellipse cx="549" cy="1787" rx="5" ry="8"/><ellipse cx="706" cy="1787" rx="4" ry="7"/><ellipse cx="510" cy="1802" rx="5" ry="6"/><ellipse cx="612" cy="1809" rx="2" ry="4"/><ellipse cx="764" cy="1809" rx="5" ry="6"/><ellipse cx="796" cy="1804" rx="5" ry="6"/><ellipse cx="813" cy="1808" rx="3" ry="4"/><ellipse cx="798" cy="1830" rx="4" ry="5"/><ellipse cx="519" cy="1845" rx="3" ry="4"/><ellipse cx="748" cy="1845" rx="4" ry="5"/>
</g>
<!-- Row2 Col3 Merged -->
<g filter="url(#bl)">
<g fill="#1c1ce0">
<circle cx="851" cy="1528" r="5"/><circle cx="886" cy="1528" r="6"/><circle cx="917" cy="1528" r="5"/><circle cx="1189" cy="1518" r="6"/><circle cx="1131" cy="1553" r="6"/><circle cx="1180" cy="1556" r="5"/><circle cx="1206" cy="1552" r="6"/><circle cx="851" cy="1556" r="5"/><circle cx="866" cy="1552" r="4"/><circle cx="854" cy="1591" r="5"/><circle cx="876" cy="1577" r="6"/><circle cx="894" cy="1586" r="6"/><circle cx="908" cy="1569" r="6"/><circle cx="932" cy="1586" r="5"/><circle cx="1210" cy="1579" r="6"/><circle cx="983" cy="1608" r="5"/><circle cx="1123" cy="1613" r="6"/><circle cx="1163" cy="1611" r="6"/><circle cx="1150" cy="1634" r="6"/><circle cx="1204" cy="1637" r="6"/><circle cx="1148" cy="1659" r="5"/><circle cx="1176" cy="1652" r="5"/><circle cx="1124" cy="1652" r="4"/><circle cx="1161" cy="1669" r="5"/><circle cx="1191" cy="1667" r="5"/><circle cx="1132" cy="1674" r="4"/><circle cx="1186" cy="1686" r="6"/><circle cx="1155" cy="1691" r="5"/><circle cx="1097" cy="1695" r="5"/><circle cx="859" cy="1670" r="6"/><circle cx="873" cy="1683" r="6"/><circle cx="855" cy="1688" r="5"/><circle cx="902" cy="1668" r="5"/><circle cx="914" cy="1668" r="5"/><circle cx="876" cy="1705" r="6"/><circle cx="850" cy="1708" r="4"/><circle cx="907" cy="1708" r="5"/><circle cx="863" cy="1722" r="5"/><circle cx="953" cy="1727" r="6"/><circle cx="913" cy="1742" r="5"/><circle cx="934" cy="1745" r="5"/><circle cx="907" cy="1760" r="6"/><circle cx="961" cy="1771" r="5"/><circle cx="1104" cy="1744" r="6"/><circle cx="1094" cy="1756" r="4"/><circle cx="940" cy="1786" r="6"/><circle cx="860" cy="1787" r="5"/><circle cx="902" cy="1799" r="5"/><circle cx="1095" cy="1786" r="4"/><circle cx="1154" cy="1808" r="5"/><circle cx="1186" cy="1805" r="5"/><circle cx="1204" cy="1808" r="4"/><circle cx="1179" cy="1840" r="5"/><circle cx="1137" cy="1844" r="5"/><circle cx="1002" cy="1808" r="3"/>
</g>
<g fill="#ff1010">
<circle cx="1077" cy="1553" r="2.5"/><circle cx="1143" cy="1634" r="6"/><circle cx="1208" cy="1640" r="5"/><circle cx="1104" cy="1751" r="4"/><circle cx="1096" cy="1698" r="3"/><circle cx="1214" cy="1555" r="3"/><circle cx="1193" cy="1523" r="3"/><circle cx="861" cy="1675" r="3"/><circle cx="1208" cy="1812" r="3"/><circle cx="1125" cy="1614" r="3"/><circle cx="985" cy="1612" r="2"/><circle cx="912" cy="1574" r="2"/><circle cx="1008" cy="1760" r="2"/><circle cx="1168" cy="1631" r="3"/>
</g>
</g>
<!-- Row2 Col4 zoomed -->
<g filter="url(#bl2)">
<g fill="#9a0000">
<circle cx="1400" cy="1530" r="8"/><circle cx="1495" cy="1530" r="8"/><circle cx="1415" cy="1618" r="8"/><circle cx="1470" cy="1628" r="8"/><circle cx="1510" cy="1630" r="7"/><circle cx="1536" cy="1660" r="8"/><circle cx="1505" cy="1682" r="7"/><circle cx="1470" cy="1700" r="8"/><circle cx="1372" cy="1835" r="7"/><circle cx="1380" cy="1785" r="6"/><circle cx="1500" cy="1574" r="7"/>
</g>
<g fill="#1c1cd8">
<ellipse cx="1411" cy="1536" rx="13" ry="14"/><ellipse cx="1479" cy="1534" rx="13" ry="14"/><ellipse cx="1458" cy="1579" rx="13" ry="15"/><ellipse cx="1490" cy="1572" rx="12" ry="14"/><ellipse cx="1546" cy="1582" rx="13" ry="15"/><ellipse cx="1415" cy="1608" rx="13" ry="14"/><ellipse cx="1456" cy="1619" rx="12" ry="14"/><ellipse cx="1502" cy="1611" rx="13" ry="15"/><ellipse cx="1474" cy="1651" rx="11" ry="13"/><ellipse cx="1426" cy="1660" rx="12" ry="14"/><ellipse cx="1526" cy="1646" rx="12" ry="14"/><ellipse cx="1517" cy="1681" rx="12" ry="14"/><ellipse cx="1464" cy="1690" rx="12" ry="14"/><ellipse cx="1368" cy="1700" rx="11" ry="13"/><ellipse cx="1380" cy="1797" rx="12" ry="15"/><ellipse cx="1363" cy="1822" rx="10" ry="13"/><ellipse cx="1642" cy="1522" rx="5" ry="10"/>
</g>
<g fill="#ff1414">
<ellipse cx="1441" cy="1578" rx="11" ry="13"/><ellipse cx="1554" cy="1596" rx="9" ry="11"/><circle cx="1376" cy="1843" r="8"/><circle cx="1378" cy="1705" r="5"/>
</g>
</g>

<!-- inset boxes and dashed connectors -->
<g fill="none" stroke="#fff" stroke-width="2.5">
<rect x="993" y="1203" width="216" height="177"/>
<rect x="1005" y="1594" width="216" height="179"/>
</g>
<g stroke="#e60000" stroke-width="2.5" stroke-dasharray="5,4" fill="none">
<path d="M1209 1203L1262 1166"/>
<path d="M1209 1380L1262 1502"/>
<path d="M1221 1594L1262 1513"/>
<path d="M1221 1773L1262 1849"/>
</g>

<!-- scale bars -->
<g fill="#fff">
<rect x="374" y="1483" width="58" height="6"/>
<rect x="760" y="1483" width="59" height="6"/>
<rect x="1161" y="1483" width="58" height="6"/>
<rect x="1536" y="1479" width="98" height="6"/>
<rect x="374" y="1830" width="59" height="6"/>
<rect x="760" y="1830" width="59" height="6"/>
<rect x="1161" y="1830" width="58" height="6"/>
<rect x="1536" y="1826" width="98" height="6"/>
</g>

<!-- arrows -->
<g stroke-width="4" fill="none">
<path d="M1465 1184L1426 1194" stroke="#fff" marker-end="url(#ahw)"/>
<path d="M1592 1291L1556 1311" stroke="#fff" marker-end="url(#ahw)"/>
<path d="M1353 1441L1386 1467" stroke="#fff" marker-end="url(#ahw)"/>
<path d="M1368 1588L1413 1581" stroke="#ffef00" marker-end="url(#ahy)"/>
<path d="M1405 1636L1449 1644" stroke="#ffef00" marker-end="url(#ahy)"/>
<path d="M1307 1740L1346 1719" stroke="#ffef00" marker-end="url(#ahy)"/>
</g>
</svg>
</body>
</html>
